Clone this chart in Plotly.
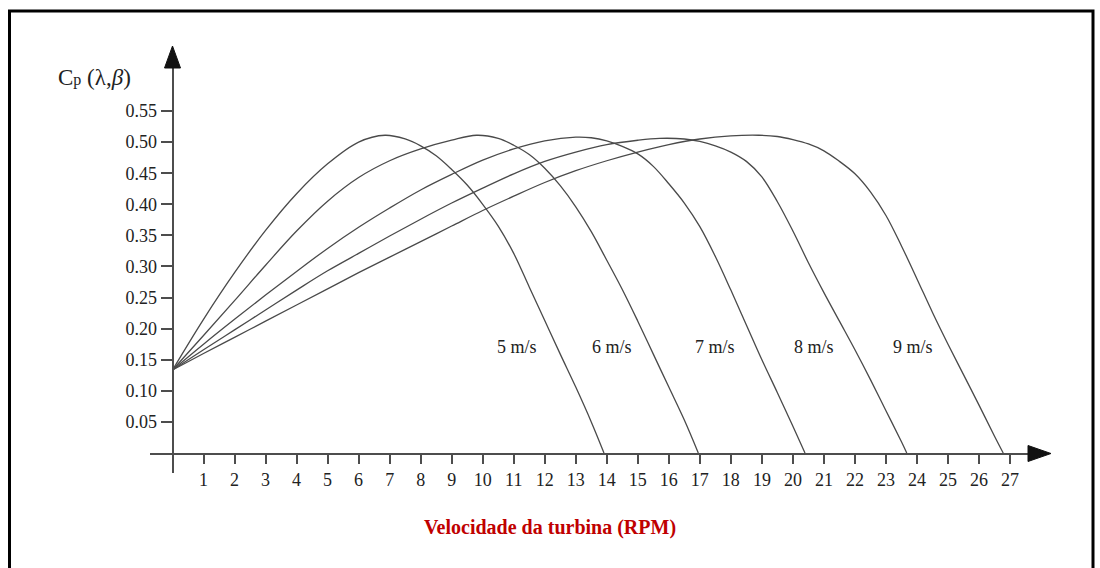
import plotly.graph_objects as go

# Power coefficient Cp(lambda, beta) versus turbine speed for several wind speeds
wind_labels = ["5 m/s", "6 m/s", "7 m/s", "8 m/s", "9 m/s"]

rpm_5 = [0, 1, 2, 3, 4, 5, 6, 6.85, 7.5, 8, 8.5, 9, 9.5, 10, 10.5, 11, 11.5, 12, 12.5, 13, 13.5, 13.91]
cp_5 = [0.1335, 0.215, 0.290, 0.358, 0.417, 0.465, 0.500, 0.511, 0.505, 0.494, 0.478, 0.456, 0.431, 0.400,
        0.365, 0.321, 0.267, 0.213, 0.159, 0.106, 0.050, 0.0]

rpm_6 = [0, 1, 2, 3, 4, 5, 6, 7, 8, 9, 9.8, 10.5, 11, 11.5, 12, 12.5, 13, 13.5, 14, 14.5, 15, 15.5, 16, 16.5, 16.95]
cp_6 = [0.1335, 0.189, 0.245, 0.302, 0.357, 0.405, 0.443, 0.470, 0.489, 0.503, 0.511, 0.506, 0.495, 0.480,
        0.458, 0.430, 0.396, 0.356, 0.310, 0.263, 0.212, 0.159, 0.106, 0.053, 0.0]

rpm_7 = [0, 1, 2, 3, 4, 5, 6, 7, 8, 9, 10, 11, 12, 13, 13.5, 14, 14.5, 15, 15.5, 16, 16.5, 17, 17.5, 18,
         18.5, 19, 19.5, 20, 20.39]
cp_7 = [0.1335, 0.175, 0.215, 0.254, 0.292, 0.329, 0.363, 0.394, 0.423, 0.448, 0.471, 0.489, 0.502, 0.508,
        0.507, 0.502, 0.493, 0.481, 0.461, 0.433, 0.402, 0.364, 0.316, 0.262, 0.206, 0.150, 0.097, 0.043, 0.0]

rpm_8 = [0, 1, 2, 3, 4, 5, 6, 7, 8, 9, 10, 11, 12, 13, 14, 15, 15.7, 16.5, 17, 17.5, 18, 18.5, 19, 19.5,
         20, 20.5, 21, 21.5, 22, 22.5, 23, 23.5, 23.67]
cp_8 = [0.1335, 0.166, 0.198, 0.230, 0.262, 0.293, 0.321, 0.349, 0.376, 0.402, 0.426, 0.449, 0.469, 0.484,
        0.496, 0.503, 0.506, 0.505, 0.501, 0.494, 0.484, 0.469, 0.444, 0.404, 0.357, 0.306, 0.258, 0.212,
        0.166, 0.118, 0.068, 0.018, 0.0]

rpm_9 = [0, 1, 2, 3, 4, 5, 6, 7, 8, 9, 10, 11, 12, 13, 14, 15, 16, 17, 18, 18.9, 19.5, 20, 20.5, 21, 21.5,
         22, 22.5, 23, 23.5, 24, 24.5, 25, 25.5, 26, 26.5, 26.78]
cp_9 = [0.1335, 0.160, 0.186, 0.212, 0.238, 0.264, 0.290, 0.315, 0.340, 0.365, 0.390, 0.413, 0.435, 0.454,
        0.470, 0.484, 0.496, 0.505, 0.510, 0.511, 0.509, 0.504, 0.497, 0.486, 0.469, 0.449, 0.420, 0.382,
        0.333, 0.280, 0.226, 0.175, 0.126, 0.077, 0.027, 0.0]

label_rpm = [11.12, 14.18, 17.49, 20.68, 23.86]
label_cp = 0.171

x_ticks = list(range(1, 28))
y_ticks = [0.05, 0.10, 0.15, 0.20, 0.25, 0.30, 0.35, 0.40, 0.45, 0.50, 0.55]

curves = [(rpm_5, cp_5), (rpm_6, cp_6), (rpm_7, cp_7), (rpm_8, cp_8), (rpm_9, cp_9)]

W, H = 1100, 568
ML, MR, MT, MB = 150, 72, 68, 95
PW, PH = W - ML - MR, H - MT - MB


def px(x):
    return (x - ML) / PW


def py(y):
    return (H - MB - y) / PH


SERIF = "Liberation Serif, Times New Roman, serif"
LINE = "#4a4a4a"
AXIS = "#4d4d4d"

fig = go.Figure()
for xs, ys in curves:
    fig.add_trace(go.Scatter(
        x=xs, y=ys, mode="lines",
        line=dict(color=LINE, width=1.3, shape="spline", smoothing=1.0),
        showlegend=False, hoverinfo="skip",
    ))

annotations = []
for txt, xv in zip(wind_labels, label_rpm):
    annotations.append(dict(
        x=xv, y=label_cp, xref="x", yref="y", text=txt, showarrow=False,
        font=dict(family=SERIF, size=18, color="#222"),
    ))

annotations.append(dict(
    x=px(56), y=py(77), xref="paper", yref="paper", xanchor="left", yanchor="middle",
    text='C<span style="font-size:16px">p</span> (λ,<i>β</i>)', showarrow=False,
    font=dict(family=SERIF, size=23, color="#222"),
))
annotations.append(dict(
    x=px(550), y=py(527), xref="paper", yref="paper", xanchor="center", yanchor="middle",
    text="<b>Velocidade da turbina (RPM)</b>", showarrow=False,
    font=dict(family=SERIF, size=20, color="#C00000"),
))

shapes = [
    # outer frame
    dict(type="rect", xref="paper", yref="paper",
         x0=px(9.5), x1=px(1093), y0=py(620), y1=py(11),
         line=dict(color="black", width=3), fillcolor="rgba(0,0,0,0)"),
    # arrow heads of the axes
    dict(type="path", xref="paper", yref="paper",
         path=f"M {px(172.5)} {py(46)} L {px(164.5)} {py(68)} L {px(180.5)} {py(68)} Z",
         fillcolor="#111", line=dict(color="#111", width=1)),
    dict(type="path", xref="paper", yref="paper",
         path=f"M {px(1051)} {py(453.5)} L {px(1028)} {py(445.5)} L {px(1028)} {py(461.5)} Z",
         fillcolor="#111", line=dict(color="#111", width=1)),
]

x0_data = (ML - 172.5) / 31.02
x1_data = (W - MR - 172.5) / 31.02
y0_data = (453 - (H - MB)) / 621.8
y1_data = (453 - MT) / 621.8

fig.update_layout(
    width=W, height=H,
    margin=dict(l=ML, r=MR, t=MT, b=MB),
    paper_bgcolor="white", plot_bgcolor="white",
    xaxis=dict(
        range=[x0_data, x1_data], anchor="free", position=py(453.5),
        showgrid=False, zeroline=False, showline=True, linecolor=AXIS, linewidth=1.8,
        ticks="outside", ticklen=10, tickwidth=1.5, tickcolor=AXIS,
        tickvals=x_ticks, ticktext=[str(v) for v in x_ticks],
        tickfont=dict(family=SERIF, size=18, color="#222"),
    ),
    yaxis=dict(
        range=[y0_data, y1_data], anchor="free", position=px(172.5),
        showgrid=False, zeroline=False, showline=True, linecolor=AXIS, linewidth=1.8,
        ticks="outside", ticklen=11, tickwidth=1.5, tickcolor=AXIS,
        tickvals=y_ticks, ticktext=[f"{v:.2f}" for v in y_ticks],
        tickfont=dict(family=SERIF, size=18, color="#222"),
    ),
    annotations=annotations,
    shapes=shapes,
)

fig.write_html("out.html")
